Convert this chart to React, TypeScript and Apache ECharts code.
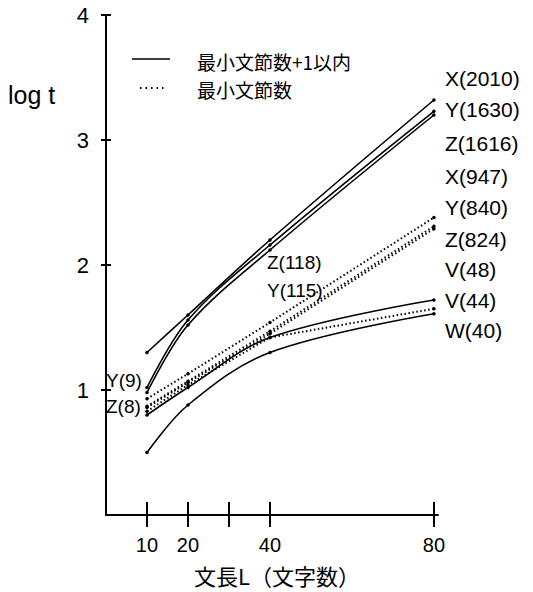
import React, { useEffect, useRef } from "react";
import * as echarts from "echarts";

// sentence length L (characters)
const lengths = [10, 20, 40, 80];
// log t, 最小文節数+1以内 (solid)
const solidX = [1.3, 1.6, 2.2, 3.32];
const solidY = [1.02, 1.56, 2.16, 3.23];
const solidZ = [0.98, 1.52, 2.12, 3.2];
const solidV = [0.8, 1.02, 1.42, 1.72];
const solidW = [0.5, 0.88, 1.3, 1.61];
// log t, 最小文節数 (dotted)
const dottedX = [0.93, 1.13, 1.54, 2.38];
const dottedY = [0.87, 1.07, 1.47, 2.31];
const dottedZ = [0.86, 1.06, 1.45, 2.29];
const dottedV = [0.83, 1.04, 1.42, 1.65];

const xTicks = [10, 20, 30, 40, 80];
const xTickLabels = [10, 20, 40, 80];
const yTicks = [1, 2, 3, 4];
const rightLabels = ["X(2010)", "Y(1630)", "Z(1616)", "X(947)", "Y(840)", "Z(824)", "V(48)", "V(44)", "W(40)"];
const rightLabelY = [78, 109, 143, 176, 207, 239, 269, 300, 330];
const legendNames = ["最小文節数+1以内", "最小文節数"];
const xTitle = "文長L（文字数）";
const yTitle = "log t";

const FONT = "'Liberation Sans', Arial, sans-serif";
const CJK = "'Noto Sans CJK JP', sans-serif";

function mk(name: string, vals: number[], dotted: boolean) {
  return {
    type: "line",
    name,
    data: lengths.map((l, i) => [l, vals[i]]),
    smooth: dotted ? false : 0.35,
    symbol: "circle",
    symbolSize: 3.5,
    showSymbol: true,
    xAxisIndex: 0,
    yAxisIndex: 0,
    lineStyle: { color: "#000", width: dotted ? 2 : 1.6, type: dotted ? [1.5, 2.5] : "solid" },
    itemStyle: { color: "#000" },
    emphasis: { disabled: true },
  };
}

export default function App() {
  const ref = useRef<HTMLDivElement>(null);
  useEffect(() => {
    document.body.style.margin = "0";
    const chart = echarts.init(ref.current!, null, { renderer: "svg" });
    const axisLine = { show: true, lineStyle: { color: "#000", width: 2 } };
    const tickStyle = { color: "#000", width: 2 };
    const txt = (text: string, x: number, y: number, size: number, family = FONT, align = "left") => ({
      type: "text",
      x,
      y,
      silent: true,
      style: { text, fontSize: size, fontFamily: family, fill: "#000", textAlign: align, textVerticalAlign: "middle" },
    });
    chart.setOption({
      animation: false,
      backgroundColor: "#fff",
      grid: { left: 106, width: 332, top: 15, height: 500, containLabel: false },
      xAxis: [
        {
          type: "value", min: 0, max: 81, position: "bottom",
          axisLine, splitLine: { show: false },
          axisTick: { show: true, customValues: xTicks, length: 12, lineStyle: tickStyle },
          axisLabel: { customValues: xTickLabels, margin: 20, fontSize: 20, color: "#000", fontFamily: FONT },
        },
        {
          type: "value", min: 0, max: 81, position: "bottom",
          axisLine: { show: false }, splitLine: { show: false },
          axisTick: { show: true, inside: true, customValues: xTicks, length: 13, lineStyle: tickStyle },
          axisLabel: { show: false },
        },
      ],
      yAxis: [
        {
          type: "value", min: 0, max: 4, interval: 1, position: "left",
          axisLine, splitLine: { show: false },
          axisTick: { show: true, customValues: yTicks, length: 5, lineStyle: tickStyle },
          axisLabel: { customValues: yTicks, margin: 17, fontSize: 22, color: "#000", fontFamily: FONT },
        },
        {
          type: "value", min: 0, max: 4, interval: 1, position: "left",
          axisLine: { show: false }, splitLine: { show: false },
          axisTick: { show: true, inside: true, customValues: yTicks, length: 5, lineStyle: tickStyle },
          axisLabel: { show: false },
        },
      ],
      series: [
        mk("X solid", solidX, false),
        mk("Y solid", solidY, false),
        mk("Z solid", solidZ, false),
        mk("V solid", solidV, false),
        mk("W solid", solidW, false),
        mk("X dotted", dottedX, true),
        mk("Y dotted", dottedY, true),
        mk("Z dotted", dottedZ, true),
        mk("V dotted", dottedV, true),
      ],
      graphic: [
        txt(yTitle, 8, 95, 25),
        { type: "line", silent: true, shape: { x1: 132, y1: 59, x2: 170, y2: 59 }, style: { stroke: "#000", lineWidth: 1.6 } },
        { type: "line", silent: true, shape: { x1: 140, y1: 88, x2: 164, y2: 88 }, style: { stroke: "#000", lineWidth: 2, lineDash: [1.5, 4] } },
        txt(legendNames[0], 197, 61, 19, CJK),
        txt(legendNames[1], 197, 89, 19, CJK),
        ...rightLabels.map((t, i) => txt(t, 445, rightLabelY[i], 21)),
        txt("Y(9)", 106, 380, 19),
        txt("Z(8)", 106, 406, 19),
        txt("Z(118)", 267, 262, 19),
        txt("Y(115)", 267, 290, 19),
        txt(xTitle, 277, 575, 22, CJK, "center"),
      ],
    });
    return () => chart.dispose();
  }, []);
  return <div ref={ref} style={{ width: 533, height: 592 }} />;
}
